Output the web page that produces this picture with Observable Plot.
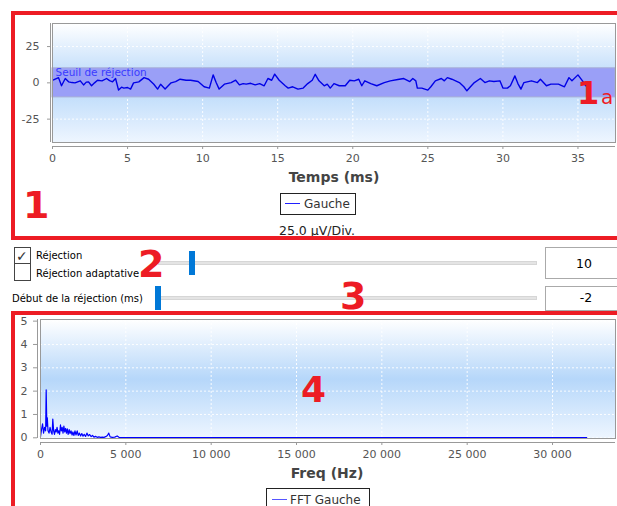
<!DOCTYPE html>
<html><head><meta charset="utf-8">
<script src="https://cdn.jsdelivr.net/npm/d3@7"></script>
<script src="https://cdn.jsdelivr.net/npm/@observablehq/plot@0.6"></script>
<style>
body{margin:0;background:#fff;font-family:"DejaVu Sans",sans-serif;}
#root{position:relative;width:617px;height:506px;overflow:hidden;background:#fff;}
#root svg{position:absolute;left:0;}
.box{position:absolute;box-sizing:border-box;}
</style></head><body><div id="root"></div>
<script>
// ---- data: time signal (µV) ----
const timeMs = [0.07,0.4,0.6,0.85,1.07,1.3,1.5,1.85,2.07,2.25,2.4,2.6,2.8,3.0,3.3,3.6,3.8,4.0,4.2,4.4,4.6,4.75,5.0,5.2,5.4,5.75,6.1,6.4,6.75,7.0,7.2,7.5,7.9,8.2,8.5,8.9,9.2,9.7,10.1,10.45,10.7,10.9,11.1,11.45,11.9,12.2,12.45,12.7,12.9,13.2,13.5,13.8,14.1,14.35,14.6,14.8,15.1,15.5,15.7,16.0,16.35,16.7,17.0,17.3,17.5,17.75,18.1,18.3,18.5,18.75,19.1,19.5,19.8,20.1,20.4,20.6,20.8,21.2,21.6,22.1,22.5,23.0,23.4,23.8,24.0,24.2,24.3,24.6,25.0,25.2,25.5,25.9,26.1,26.3,26.6,27.1,27.4,27.6,27.9,28.1,28.5,28.8,29.1,29.4,29.8,30.0,30.3,30.5,30.8,31.0,31.2,31.4,31.9,32.3,32.5,32.9,33.2,33.7,34.1,34.4,34.6,35.0,35.3,35.5];
const gaucheUv = [2.0,3.6,-2.0,3.0,0.7,0.2,0.0,1.4,-1.4,0.5,0.7,-2.0,0.0,1.8,1.4,3.0,1.5,0.7,3.0,-5.0,-3.0,-3.6,-3.2,-4.3,0.0,0.7,3.6,2.5,-1.0,-4.3,-1.0,-4.3,0.0,0.9,2.5,1.8,1.8,0.9,-2.7,-3.6,5.5,0.2,-4.3,-0.9,0.2,1.8,-1.4,-0.5,-0.9,-0.3,-1.4,-0.5,-2.0,3.0,1.8,6.0,1.8,-2.0,-3.6,-2.7,-4.3,-3.6,-0.5,1.8,5.9,1.4,-2.0,-0.9,-3.6,-0.5,-2.0,-2.0,1.8,1.4,2.5,-2.0,1.4,-0.5,-2.0,0.2,1.4,2.3,3.0,0.9,3.0,1.4,-3.6,-3.6,-5.0,-2.7,1.4,3.0,1.4,3.6,2.5,0.2,-2.7,-5.5,-2.0,0.2,3.0,0.2,1.4,0.9,1.4,-3.6,-3.6,-2.0,4.8,-0.5,-4.3,0.2,1.4,0.2,2.5,-2.0,-0.9,-0.9,-2.7,3.6,1.4,5.5,1.4,-2.0];
const thresholdUv = 10;
const bandLabel = ["Seuil de réjection"];
const timeTicks = [0,5,10,15,20,25,30,35];
const uvTicks = [-25,0,25];

// ---- data: FFT ----
const freqHz = [0,60,120,180,240,300,333,370,400,440,500,560,620,680,720,770,820,870,920,970,1020,1070,1120,1170,1220,1270,1320,1370,1420,1470,1520,1570,1620,1680,1730,1790,1850,1900,1960,2020,2080,2150,2210,2280,2350,2420,2490,2560,2640,2720,2800,2880,2970,3050,3130,3220,3320,3420,3520,3620,3720,3820,3920,4000,4080,4200,4350,4490,4600,5000,32000];
const fftAmp = [0.05,0.35,0.6,0.2,0.45,0.3,2.05,0.5,0.85,0.3,0.2,0.45,0.25,0.15,0.8,0.3,0.15,0.35,0.25,0.45,0.2,0.3,0.15,0.55,0.3,0.45,0.2,0.5,0.25,0.4,0.2,0.38,0.15,0.35,0.18,0.3,0.12,0.25,0.1,0.3,0.12,0.3,0.1,0.2,0.08,0.18,0.07,0.15,0.06,0.2,0.08,0.14,0.05,0.1,0.03,0.06,0.02,0.04,0.02,0.03,0.02,0.05,0.1,0.2,0.04,0.02,0.03,0.08,0.02,0.01,0.01];
const freqTicks = [0,5000,10000,15000,20000,25000,30000];
const ampTicks = [0,1,2,3,4,5];

const root = document.getElementById("root");

function gradientDefs(id) {
  return () => {
    const defs = d3.create("svg:defs");
    const g = defs.append("linearGradient").attr("id", id)
      .attr("x1", 0).attr("y1", 0).attr("x2", 0).attr("y2", 1);
    g.append("stop").attr("offset", "0%").attr("stop-color", "#ffffff");
    g.append("stop").attr("offset", "50%").attr("stop-color", "#b6d7fa");
    g.append("stop").attr("offset", "100%").attr("stop-color", "#eef6ff");
    return defs.node();
  };
}
const hyphen = d => (d < 0 ? "-" + Math.abs(d) : String(d));
const spaced = d => d3.format(",")(d).replace(/,/g, " ");

// ---- top chart ----
const tX = [0, 37.5], tY = [-41.1, 40.9];
const sig = timeMs.map((t, i) => ({t, v: gaucheUv[i]}));
const band = [{lo: -thresholdUv, hi: thresholdUv}];
const topPlot = Plot.plot({
  width: 617, height: 165,
  marginLeft: 52, marginRight: 2, marginTop: 23, marginBottom: 23,
  style: {fontFamily: "DejaVu Sans", fontSize: "11px", background: "transparent", overflow: "visible"},
  x: {domain: tX, label: null},
  y: {domain: tY, label: null},
  marks: [
    gradientDefs("gTop"),
    Plot.frame({fill: "url(#gTop)"}),
    Plot.gridX(timeTicks, {stroke: "#fff", strokeOpacity: 0.9, strokeDasharray: "2,2"}),
    Plot.gridY(uvTicks, {stroke: "#fff", strokeOpacity: 0.9, strokeDasharray: "2,2"}),
    Plot.rect(band, {x1: () => tX[0], x2: () => tX[1], y1: "lo", y2: "hi", fill: "#9a9ff7", stroke: "#a6acd6", strokeWidth: 1}),
    Plot.text(bandLabel, {x: () => 0, y: () => 6.8, text: d => d, textAnchor: "start", dx: 3, fill: "#3b3bff", fontSize: 10.5}),
    Plot.line(sig, {x: "t", y: "v", stroke: "#0000e6", strokeWidth: 1.4}),
    Plot.frame({stroke: "#999"}),
    Plot.ruleY([tY[0]], {dy: 4, stroke: "#999"}),
    Plot.ruleX([tX[0]], {dx: -2, stroke: "#999"}),
    Plot.axisX(timeTicks, {tickSize: 3, tickPadding: 5, dy: 4, label: null, color: "#555", stroke: "#999"}),
    Plot.axisY(uvTicks, {tickSize: 3, tickPadding: 8, dx: -2, label: null, tickFormat: hyphen, color: "#555", stroke: "#999"})
  ]
});
topPlot.style.top = "0px";
root.appendChild(topPlot);

// ---- FFT chart ----
const fX = [0, 33690], fY = [-0.03, 5.07];
const spec = freqHz.map((f, i) => ({f, a: fftAmp[i]}));
const fftPlot = Plot.plot({
  width: 617, height: 165,
  marginLeft: 40, marginRight: 2, marginTop: 19, marginBottom: 27,
  style: {fontFamily: "DejaVu Sans", fontSize: "11px", background: "transparent", overflow: "visible"},
  x: {domain: fX, label: null},
  y: {domain: fY, label: null},
  marks: [
    gradientDefs("gFft"),
    Plot.frame({fill: "url(#gFft)"}),
    Plot.gridX(freqTicks, {stroke: "#fff", strokeOpacity: 0.9, strokeDasharray: "2,2"}),
    Plot.gridY(ampTicks, {stroke: "#fff", strokeOpacity: 0.9, strokeDasharray: "2,2"}),
    Plot.line(spec, {x: "f", y: "a", stroke: "#0000ff", strokeWidth: 1.2}),
    Plot.frame({stroke: "#999"}),
    Plot.ruleY([fY[0]], {dy: 4, stroke: "#999"}),
    Plot.ruleX([fX[0]], {dx: -3, stroke: "#999"}),
    Plot.axisX(freqTicks, {tickSize: 3, tickPadding: 5, dy: 4, label: null, tickFormat: spaced, color: "#555", stroke: "#999"}),
    Plot.axisY(ampTicks, {tickSize: 4, tickPadding: 6, dx: -3, label: null, color: "#555", stroke: "#999"})
  ]
});
fftPlot.style.top = "300px";
root.appendChild(fftPlot);

// ---- helpers for surrounding UI ----
function addText(txt, x, baseline, size, o = {}) {
  const d = document.createElement("div");
  d.textContent = txt;
  d.style.cssText = `position:absolute;left:${x}px;top:${baseline - 0.846 * size}px;font-size:${size}px;line-height:${size}px;white-space:nowrap;font-family:'DejaVu Sans',sans-serif;color:${o.color || "#000"};font-weight:${o.bold ? "bold" : "normal"};z-index:${o.z || 2};`;
  if (o.center) d.style.transform = "translateX(-50%)";
  root.appendChild(d);
  return d;
}
function addBox(x, y, w, h, css) {
  const d = document.createElement("div");
  d.className = "box";
  d.style.cssText += `left:${x}px;top:${y}px;width:${w}px;height:${h}px;${css}`;
  root.appendChild(d);
  return d;
}

// axis titles, legends
addText("Temps (ms)", 334, 182, 14, {bold: true, color: "#444", center: true});
addBox(280, 193, 76, 22, "border:1px solid #222;background:#fff;");
addBox(285, 203, 15, 1, "background:#2020ff;z-index:3;");
addText("Gauche", 304, 208, 12, {color: "#333", z: 3});
addText("25.0 µV/Div.", 317, 236, 12.5, {color: "#222", center: true});

addText("Freq (Hz)", 327, 478, 14, {bold: true, color: "#444", center: true});
addBox(266, 488, 104, 30, "border:1px solid #222;background:#fff;");
addBox(272, 499, 15, 1, "background:#5555ff;z-index:3;");
addText("FFT Gauche", 290, 504, 12, {color: "#333", z: 3});

// controls
addBox(14, 247, 17, 17, "border:1px solid #444;background:#fff;");
addText("✓", 16, 261, 14, {color: "#333", z: 3});
addBox(14, 263, 17, 18, "border:1px solid #444;background:#fff;");
addText("Réjection", 36, 259, 10);
addText("Réjection adaptative", 36, 277, 10);
addText("Début de la réjection (ms)", 12, 302, 10);
addBox(158, 261, 379, 4, "background:#e4e4e4;border:1px solid #d6d6d6;");
addBox(189, 251, 6, 24, "background:#0078d7;");
addBox(158, 296, 379, 4, "background:#e4e4e4;border:1px solid #d6d6d6;");
addBox(155, 286, 6, 24, "background:#0078d7;");
addBox(545, 247, 90, 32, "border:1px solid #aaa;background:#fff;");
addText("10", 584, 269, 12.5, {center: true, z: 3});
addBox(545, 286, 90, 25, "border:1px solid #aaa;background:#fff;");
addText("-2", 586, 303, 12.5, {center: true, z: 3});

// red annotations
const RED = "#ed1c24";
addBox(11, 11, 640, 229, `border:4px solid ${RED};z-index:5;`);
addBox(11, 311, 640, 260, `border:4px solid ${RED};z-index:5;`);
addText("1", 23, 218, 38, {color: RED, bold: true, z: 6});
addText("1", 577, 104, 32, {color: RED, bold: true, z: 6});
addText("a", 601, 104, 20, {color: RED, z: 6});
addText("2", 138, 277, 38, {color: RED, bold: true, z: 6});
addText("3", 340, 309, 38, {color: RED, bold: true, z: 6});
addText("4", 301, 402, 36, {color: RED, bold: true, z: 6});
</script></body></html>
